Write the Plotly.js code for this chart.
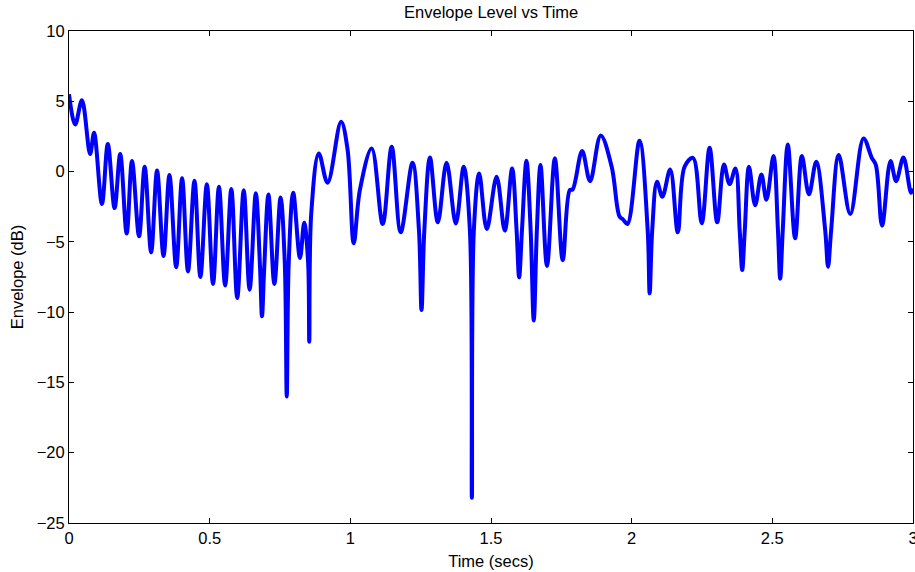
<!DOCTYPE html>
<html>
<head>
<meta charset="utf-8">
<script src="https://cdn.plot.ly/plotly-3.0.1.min.js"></script>
<style>html,body{margin:0;padding:0;background:#fff;}#chart{width:915px;height:572px;}</style>
</head>
<body>
<div id="chart"></div>
<script>
// Time (secs) of read points along the envelope curve
const timeSecs = [
  0.000, 0.022, 0.046, 0.075, 0.089, 0.117, 0.138, 0.162, 0.182, 0.205,
  0.224, 0.249, 0.269, 0.292, 0.313, 0.336, 0.357, 0.381, 0.402, 0.423,
  0.446, 0.467, 0.490, 0.512, 0.533, 0.555, 0.577, 0.598, 0.621, 0.642,
  0.664, 0.679, 0.686, 0.694, 0.709, 0.730, 0.752, 0.767, 0.774, 0.781,
  0.797, 0.821, 0.836, 0.850, 0.854, 0.861, 0.888, 0.919, 0.967, 0.990,
  1.012, 1.034, 1.076, 1.115, 1.147, 1.179, 1.221, 1.244, 1.253, 1.263,
  1.283, 1.311, 1.342, 1.375, 1.403, 1.425, 1.432, 1.439, 1.458, 1.485,
  1.520, 1.549, 1.575, 1.591, 1.600, 1.610, 1.626, 1.641, 1.652, 1.663,
  1.676, 1.699, 1.727, 1.755, 1.780, 1.790, 1.824, 1.852, 1.890, 1.929,
  1.957, 1.969, 1.985, 2.028, 2.057, 2.064, 2.073, 2.090, 2.109, 2.137,
  2.164, 2.188, 2.218, 2.249, 2.277, 2.304, 2.328, 2.348, 2.369, 2.384,
  2.393, 2.402, 2.417, 2.439, 2.461, 2.479, 2.504, 2.520, 2.528, 2.537,
  2.555, 2.581, 2.605, 2.630, 2.656, 2.688, 2.698, 2.709, 2.736, 2.777,
  2.824, 2.853, 2.868, 2.890, 2.920, 2.940, 2.966, 2.993, 3.000
];
// Envelope (dB) at those points
const envelopeDb = [
  5.5, 3.35, 5.07, 1.25, 2.76, -2.3, 1.96, -2.6, 1.25, -4.4,
  0.75, -4.6, 0.35, -5.75, 0.07, -6.0, -0.24, -6.8, -0.47, -7.1,
  -0.66, -7.5, -0.9, -8.0, -1.08, -8.1, -1.24, -9.0, -1.32, -8.4,
  -1.55, -6.8, -10.3, -6.8, -1.63, -8.0, -1.84, -6.5, -16.0, -6.5,
  -1.5, -6.15, -3.64, -6.5, -12.1, -3.0, 1.29, -0.8, 3.54, 1.6,
  -5.1, -1.3, 1.65, -3.73, 1.77, -4.32, 0.63, -4.2, -9.85, -4.2,
  1.0, -3.61, 0.63, -3.69, 0.34, -4.2, -23.2, -4.2, -0.13, -4.09,
  -0.37, -4.2, 0.22, -4.2, -7.52, -4.2, 0.77, -4.2, -10.6, -4.2,
  0.46, -6.72, 0.94, -6.3, -1.32, -1.28, 1.46, -0.68, 2.57, 0.34,
  -3.2, -3.4, -3.73, 2.2, -4.2, -8.66, -4.2, -0.72, -1.79, 0.15,
  -4.32, 0.34, 0.98, -3.68, 1.69, -3.61, 0.51, -0.89, 0.22, -4.2,
  -7.0, -4.2, 0.34, -2.4, -0.2, -2.0, 1.1, -4.2, -7.62, -4.2,
  1.92, -4.75, 1.1, -1.62, 0.7, -4.2, -6.77, -4.2, 1.17, -3.02,
  2.36, 1.0, 0.46, -3.85, 0.75, -0.68, 1.0, -1.5, -1.2
];
const xTickVals = [0, 0.5, 1, 1.5, 2, 2.5, 3];
const xTickText = ['0', '0.5', '1', '1.5', '2', '2.5', '3'];
const yTickVals = [-25, -20, -15, -10, -5, 0, 5, 10];
const yTickText = ['\u221225', '\u221220', '\u221215', '\u221210', '\u22125', '0', '5', '10'];

const FONT = 'Liberation Sans, Arial, Helvetica, sans-serif';
const FS = 16.5;
const trace = {
  x: timeSecs, y: envelopeDb, type: 'scatter', mode: 'lines',
  line: {color: '#0000ff', width: 4, shape: 'spline', smoothing: 1},
  hoverinfo: 'skip'
};
const axisCommon = {
  showline: true, linecolor: '#000', linewidth: 1, mirror: 'ticks',
  ticks: 'inside', ticklen: 5, tickwidth: 1, tickcolor: '#000',
  showgrid: false, zeroline: false, automargin: false,
  ticklabeloverflow: 'allow',
  tickfont: {family: FONT, size: FS, color: '#000'}
};
const layout = {
  width: 915, height: 572,
  margin: {l: 69, r: 2, t: 31, b: 49},
  paper_bgcolor: '#fff', plot_bgcolor: '#fff',
  showlegend: false,
  font: {family: FONT, size: FS, color: '#000'},
  title: {text: 'Envelope Level vs Time', font: {family: FONT, size: FS, color: '#000'},
          x: 0.5368, xanchor: 'center', y: 0.979, yanchor: 'middle', yref: 'container'},
  xaxis: Object.assign({}, axisCommon, {
    range: [0, 3], tickvals: xTickVals, ticktext: xTickText,
    title: {text: 'Time (secs)', font: {family: FONT, size: FS, color: '#000'}, standoff: 9}
  }),
  yaxis: Object.assign({}, axisCommon, {
    range: [-25, 10], tickvals: yTickVals, ticktext: yTickText,
    title: {text: 'Envelope (dB)', font: {family: FONT, size: FS, color: '#000'}, standoff: 8}
  })
};
Plotly.newPlot('chart', [trace], layout, {displayModeBar: false, staticPlot: true});
</script>
</body>
</html>
